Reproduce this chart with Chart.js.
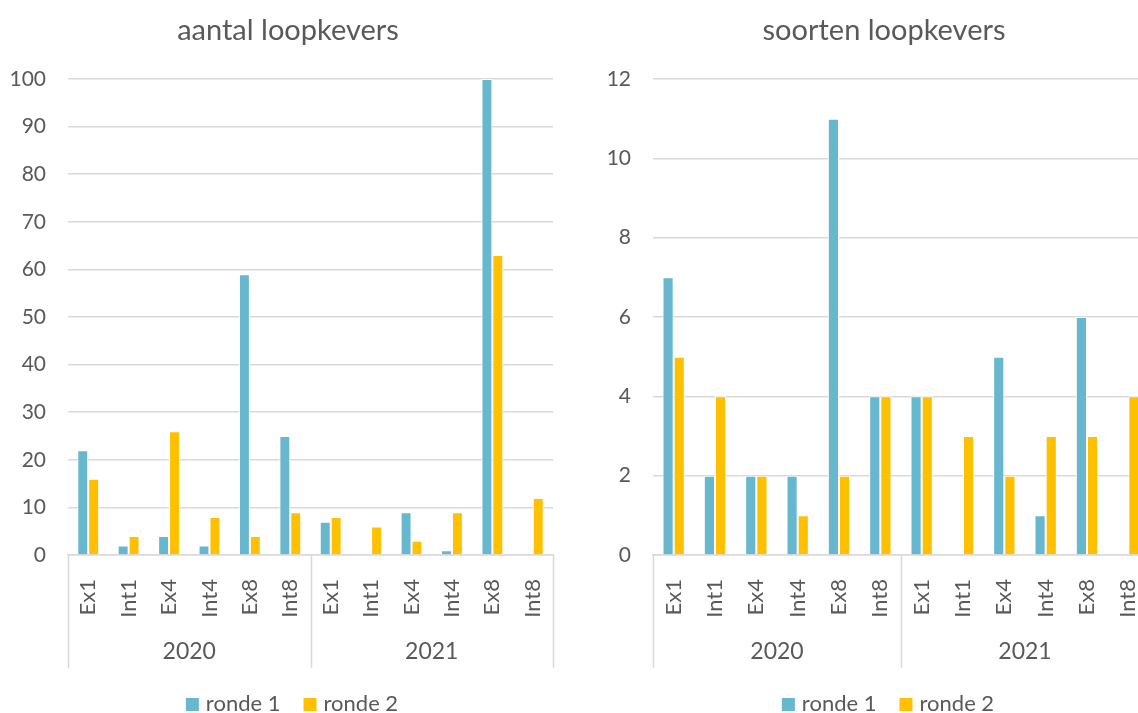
<!DOCTYPE html>
<html>
<head>
<meta charset="utf-8">
<script src="https://cdn.jsdelivr.net/npm/chart.js@4.4.1/dist/chart.umd.min.js"></script>
<style>
  html, body { margin: 0; padding: 0; background: #fff; overflow: hidden; width: 1138px; height: 713px; }
  canvas { position: absolute; top: 0; }
  #aantal { left: 0; }
  #soorten { left: 604px; }
</style>
</head>
<body>
<canvas id="aantal" width="580" height="713"></canvas>
<canvas id="soorten" width="564" height="713"></canvas>
<script>
// Locaties per jaar (twee niveaus op de x-as)
const locaties = ['Ex1', 'Int1', 'Ex4', 'Int4', 'Ex8', 'Int8', 'Ex1', 'Int1', 'Ex4', 'Int4', 'Ex8', 'Int8'];
const jaren = ['2020', '2021'];
const locatiesPerJaar = 6;

// Aantal loopkevers
const aantalRonde1 = [22, 2, 4, 2, 59, 25, 7, 0, 9, 1, 100, 0];
const aantalRonde2 = [16, 4, 26, 8, 4, 9, 8, 6, 3, 9, 63, 12];
const aantalAs = [0, 100, 10]; // min, max, stap

// Aantal soorten loopkevers
const soortenRonde1 = [7, 2, 2, 2, 11, 4, 4, 0, 5, 1, 6, 0];
const soortenRonde2 = [5, 4, 2, 1, 2, 4, 4, 3, 2, 3, 3, 4];
const soortenAs = [0, 12, 2];

const reeksNamen = ['ronde 1', 'ronde 2'];
const reeksKleuren = ['#67B7CF', '#FFC000'];

const FONT = 'Lato, "Open Sans", sans-serif';
const TEKST = '#595959';
const RASTER = '#D9D9D9';

// Titel, jaartallen onder de locaties, scheidingslijnen en legenda
const opmaak = {
  id: 'opmaak',
  afterDraw(chart, args, opts) {
    const { ctx, chartArea, scales } = chart;
    const x = scales.x;
    ctx.save();

    // titel
    ctx.fillStyle = TEKST;
    ctx.font = '29px ' + FONT;
    ctx.textAlign = 'center';
    ctx.textBaseline = 'alphabetic';
    ctx.fillText(opts.titel, chart.width / 2 - 2, 40);

    // scheidingslijnen tussen de jaren
    const grenzen = [chartArea.left];
    for (let j = 1; j < jaren.length; j++) {
      const i = j * locatiesPerJaar;
      grenzen.push((x.getPixelForValue(i - 1) + x.getPixelForValue(i)) / 2);
    }
    grenzen.push(chartArea.right);
    ctx.strokeStyle = RASTER;
    ctx.lineWidth = 1.5;
    grenzen.forEach(gx => {
      ctx.beginPath();
      ctx.moveTo(Math.round(gx) + 0.5, x.top);
      ctx.lineTo(Math.round(gx) + 0.5, x.bottom);
      ctx.stroke();
    });

    // jaartallen
    ctx.font = '23px ' + FONT;
    ctx.textBaseline = 'middle';
    jaren.forEach((jaar, j) => {
      ctx.fillText(jaar, (grenzen[j] + grenzen[j + 1]) / 2, x.top + 97);
    });

    // legenda
    ctx.font = '22px ' + FONT;
    const sets = chart.data.datasets;
    const blok = 13, tussen = 7, afstand = 23;
    const breedtes = sets.map(d => ctx.measureText(d.label).width);
    let totaal = 0;
    breedtes.forEach((b, i) => { totaal += blok + tussen + b + (i ? afstand : 0); });
    let lx = chart.width / 2 + 2 - totaal / 2;
    const basis = 711;
    ctx.textAlign = 'left';
    ctx.textBaseline = 'alphabetic';
    sets.forEach((d, i) => {
      ctx.fillStyle = d.backgroundColor;
      ctx.fillRect(lx, basis - 13, blok, blok);
      lx += blok + tussen;
      ctx.fillStyle = TEKST;
      ctx.fillText(d.label, lx, basis);
      lx += breedtes[i] + afstand;
    });
    ctx.restore();
  }
};

function maakGrafiek(id, titel, r1, r2, as, asBreedte, rechts) {
  return new Chart(document.getElementById(id), {
    type: 'bar',
    data: {
      labels: locaties,
      datasets: [r1, r2].map((waarden, i) => ({
        label: reeksNamen[i],
        data: waarden,
        backgroundColor: reeksKleuren[i],
        borderColor: '#FFFFFF',
        borderWidth: 1,
        categoryPercentage: 0.54,
        barPercentage: 1.0
      }))
    },
    options: {
      responsive: false,
      animation: false,
      devicePixelRatio: 1,
      layout: { padding: { top: 79, bottom: 45, left: 0, right: rechts } },
      plugins: {
        legend: { display: false },
        title: { display: false },
        tooltip: { enabled: false },
        opmaak: { titel: titel }
      },
      scales: {
        x: {
          grid: { display: false, drawTicks: false },
          border: { display: true, color: RASTER, width: 1.5 },
          ticks: {
            autoSkip: false,
            minRotation: 90,
            maxRotation: 90,
            padding: 24,
            color: TEKST,
            font: { family: FONT, size: 22 }
          },
          afterFit(s) {
            s.height = 113;
            s.paddingLeft = 0;
            s.paddingRight = 0;
          }
        },
        y: {
          min: as[0],
          max: as[1],
          grid: { color: RASTER, lineWidth: 1.5, drawTicks: false },
          border: { display: false },
          ticks: {
            stepSize: as[2],
            padding: 22,
            color: TEKST,
            font: { family: FONT, size: 21 }
          },
          afterFit(s) { s.width = asBreedte; }
        }
      }
    },
    plugins: [opmaak]
  });
}

maakGrafiek('aantal', 'aantal loopkevers', aantalRonde1, aantalRonde2, aantalAs, 68, 27);
maakGrafiek('soorten', 'soorten loopkevers', soortenRonde1, soortenRonde2, soortenAs, 49, 19);
</script>
</body>
</html>
